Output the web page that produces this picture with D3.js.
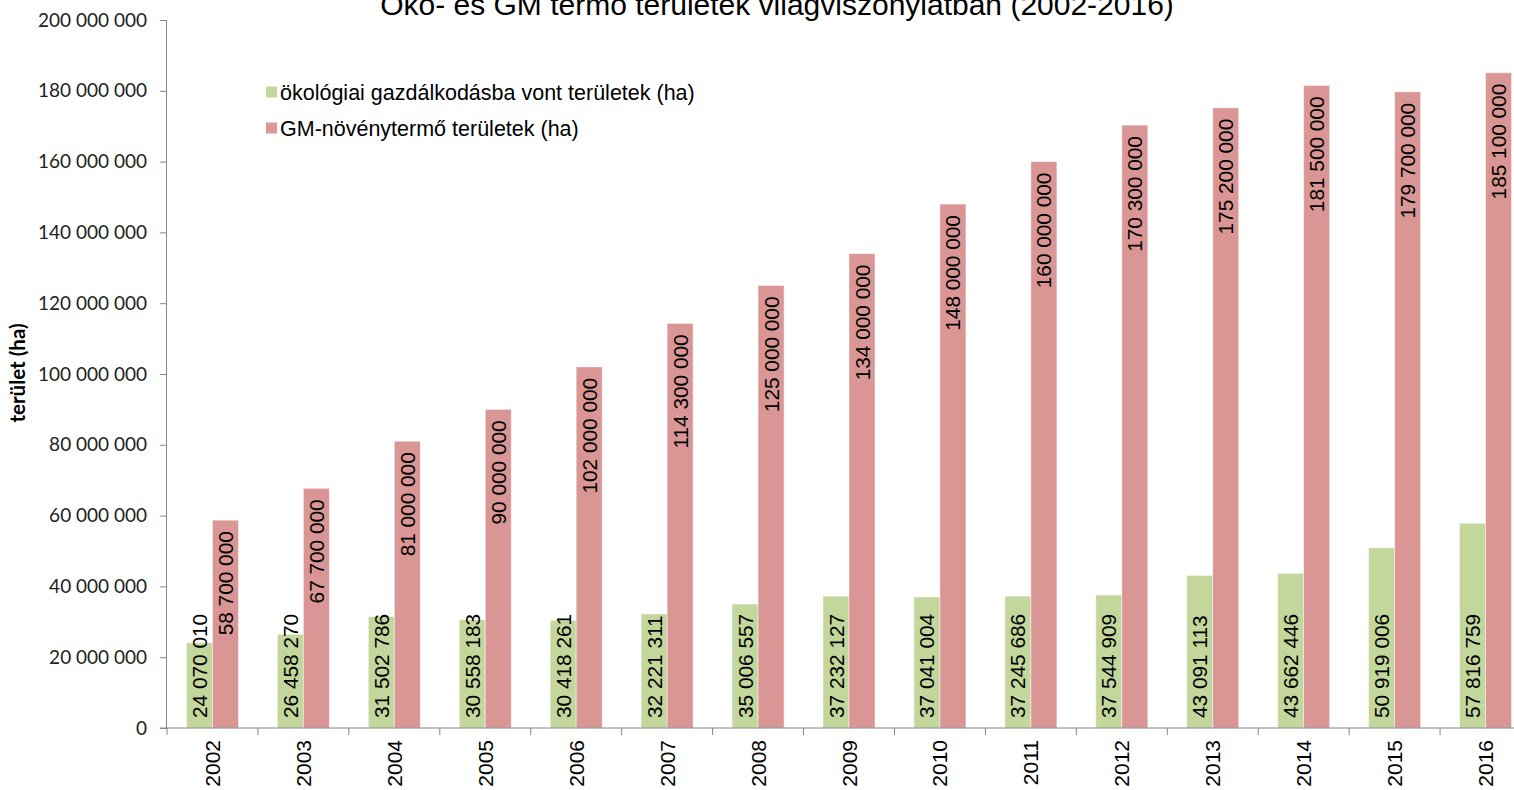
<!DOCTYPE html>
<html>
<head>
<meta charset="utf-8">
<script src="https://cdn.jsdelivr.net/npm/d3@7"></script>
<style>
  body { margin: 0; background: #fff; overflow: hidden; }
  svg { display: block; }
</style>
</head>
<body>
<svg width="1514" height="790"></svg>
<script>
const years = ["2002", "2003", "2004", "2005", "2006", "2007", "2008", "2009",
  "2010", "2011", "2012", "2013", "2014", "2015", "2016"];
const ecoArea = [24070010, 26458270, 31502786, 30558183, 30418261, 32221311, 35006557,
  37232127, 37041004, 37245686, 37544909, 43091113, 43662446, 50919006, 57816759];
const gmArea = [58700000, 67700000, 81000000, 90000000, 102000000, 114300000, 125000000,
  134000000, 148000000, 160000000, 170300000, 175200000, 181500000, 179700000, 185100000];
const seriesNames = ["ökológiai gazdálkodásba vont területek (ha)", "GM-növénytermő területek (ha)"];
const yTicks = [0, 20e6, 40e6, 60e6, 80e6, 100e6, 120e6, 140e6, 160e6, 180e6, 200e6];

const colors = ["#c3d69b", "#d99694"];
const axisColor = "#868686";

const svg = d3.select("svg");

// thousands separated with spaces, like the original
const fmt = d3.formatLocale({ decimal: ",", thousands: " ", grouping: [3], currency: ["", ""] }).format(",d");

const x = d3.scaleBand().domain(years).range([167, 1531]);
const y = d3.scaleLinear().domain([0, 200e6]).range([728, 20]);
const inner = d3.scaleBand().domain([0, 1]).range([0, 52]);
const groupOffset = (x.bandwidth() - 52) / 2;

// title (partly cut off at the top, as in the original)
svg.append("text")
  .attr("x", 777).attr("y", 15)
  .attr("text-anchor", "middle")
  .attr("font-family", "Liberation Sans, Arial, sans-serif")
  .attr("font-size", 30)
  .attr("fill", "#000")
  .text("Öko- és GM termő területek világviszonylatban (2002-2016)");

// bars
const rows = years.map((yr, i) => ({ year: yr, vals: [ecoArea[i], gmArea[i]] }));
const g = svg.selectAll("g.year")
  .data(rows)
  .join("g")
  .attr("class", "year")
  .attr("transform", d => `translate(${x(d.year) + groupOffset},0)`);

g.selectAll("rect")
  .data(d => d.vals.map((v, k) => ({ v, k })))
  .join("rect")
  .attr("x", d => inner(d.k))
  .attr("width", inner.bandwidth())
  .attr("y", d => y(d.v))
  .attr("height", d => y(0) - y(d.v))
  .attr("fill", d => colors[d.k])
  .attr("stroke", "rgba(255,255,255,0.45)")
  .attr("stroke-width", 1);

// data labels, rotated; green at base, red at top inside
g.selectAll("text.lbl")
  .data(d => d.vals.map((v, k) => ({ v, k })))
  .join("text")
  .attr("class", "lbl")
  .attr("transform", d => {
    const cx = inner(d.k) + inner.bandwidth() / 2;
    const py = d.k === 0 ? y(0) - 10 : y(d.v) + 11;
    return `translate(${cx},${py}) rotate(-90)`;
  })
  .attr("text-anchor", d => d.k === 0 ? "start" : "end")
  .attr("dy", "0.36em")
  .attr("font-family", "Liberation Sans, Arial, sans-serif")
  .attr("font-size", 20.8)
  .attr("fill", "#000")
  .text(d => fmt(d.v));

// y axis
const yAxis = svg.append("g")
  .attr("transform", "translate(167,0)")
  .call(d3.axisLeft(y).tickValues(yTicks).tickSize(7).tickPadding(13).tickFormat(d => fmt(d)));
yAxis.select(".domain").attr("stroke", axisColor).attr("d", `M-0.5,${y(200e6)}V${y(0)}`);
yAxis.selectAll(".tick line").attr("stroke", axisColor);
yAxis.selectAll(".tick text")
  .attr("font-family", "Lato, Open Sans, sans-serif")
  .attr("font-size", 19)
  .attr("fill", "#222");

// x axis: ticks between categories
const xAxisG = svg.append("g").attr("transform", `translate(0,${y(0)})`);
xAxisG.append("line")
  .attr("x1", 160).attr("x2", 1531)
  .attr("stroke", axisColor);
xAxisG.selectAll("line.sep")
  .data(years)
  .join("line")
  .attr("class", "sep")
  .attr("x1", d => x(d)).attr("x2", d => x(d))
  .attr("y1", 0).attr("y2", 7)
  .attr("stroke", axisColor);
xAxisG.selectAll("text")
  .data(years)
  .join("text")
  .attr("transform", d => `translate(${x(d) + x.bandwidth() / 2},12) rotate(-90)`)
  .attr("text-anchor", "end")
  .attr("dy", "0.36em")
  .attr("font-family", "Liberation Sans, Arial, sans-serif")
  .attr("font-size", 21)
  .attr("fill", "#000")
  .text(d => d);

// y axis title
svg.append("text")
  .attr("transform", "translate(18,373) rotate(-90)")
  .attr("text-anchor", "middle")
  .attr("dy", "0.36em")
  .attr("font-family", "Lato, Open Sans, sans-serif")
  .attr("font-weight", "bold")
  .attr("font-size", 20.5)
  .attr("fill", "#000")
  .text("terület (ha)");

// legend
const legend = svg.selectAll("g.leg")
  .data(seriesNames)
  .join("g")
  .attr("class", "leg")
  .attr("transform", (d, i) => `translate(266,${92 + i * 36})`);
legend.append("rect")
  .attr("x", 0).attr("y", -5.5)
  .attr("width", 11).attr("height", 11)
  .attr("fill", (d, i) => colors[i]);
legend.append("text")
  .attr("x", 14)
  .attr("dy", "0.36em")
  .attr("font-family", "Liberation Sans, Arial, sans-serif")
  .attr("font-size", 21.5)
  .attr("fill", "#000")
  .text(d => d);
</script>
</body>
</html>
